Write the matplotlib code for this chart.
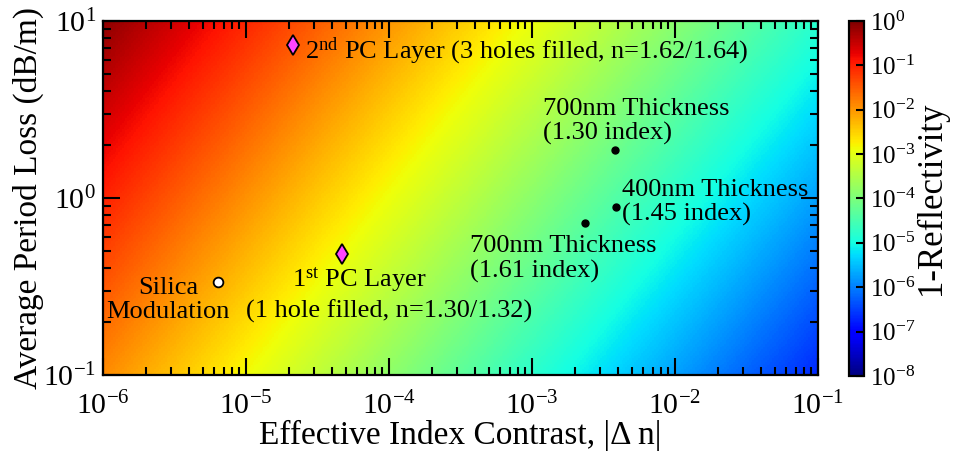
import numpy as np
import matplotlib
matplotlib.use("Agg")
import matplotlib.pyplot as plt
from matplotlib.colors import LogNorm
from matplotlib.ticker import LogLocator

plt.rcParams['font.family'] = ['Liberation Serif', 'DejaVu Serif']
plt.rcParams['mathtext.fontset'] = 'custom'
plt.rcParams['mathtext.rm'] = 'Liberation Serif'
plt.rcParams['mathtext.it'] = 'Liberation Serif:italic'
plt.rcParams['axes.unicode_minus'] = False

# log10(1-R)
corner_tl, corner_tr = -0.1, -4.8
corner_bl, corner_br = -1.9, -6.7
dn_decades = [-6, -1]
loss_decades = [-1, 1]

# measured devices
silica_dn = [6.4e-6]
silica_loss = [0.335]
pc_dn = [4.7e-5, 2.13e-5]
pc_loss = [0.483, 7.3]
thick_dn = [3.8e-3, 3.9e-3, 2.35e-3]
thick_loss = [1.87, 0.89, 0.72]

thick_labels = ['700nm Thickness\n(1.30 index)',
                '400nm Thickness\n(1.45 index)',
                '700nm Thickness\n(1.61 index)']

fig = plt.figure(figsize=(9.57, 4.53), dpi=100)
ax = fig.add_axes([0.1076, 0.172, 0.747, 0.7818])
cax = fig.add_axes([0.887, 0.170, 0.016, 0.7838])

# background map
lx = np.linspace(dn_decades[0], dn_decades[1], 400)
ly = np.linspace(loss_decades[0], loss_decades[1], 200)
top = np.linspace(corner_tl, corner_tr, lx.size)
bot = np.linspace(corner_bl, corner_br, lx.size)
t = (ly - ly[0]) / (ly[-1] - ly[0])
level = bot[None, :] + t[:, None] * (top - bot)[None, :]
mesh = ax.pcolormesh(10**lx, 10**ly, 10**level, cmap='jet',
                     norm=LogNorm(1e-8, 1), shading='auto', rasterized=True)

ax.set_xscale('log')
ax.set_yscale('log')
ax.set_xlim(10.0**dn_decades[0], 10.0**dn_decades[1])
ax.set_ylim(10.0**loss_decades[0], 10.0**loss_decades[1])

# points
ax.plot(silica_dn, silica_loss, 'o', ms=7, mfc='white', mec='black', mew=1.3)
ax.plot(pc_dn, pc_loss, 'd', ms=10, mfc='#ff44ff', mec='black', mew=1.3)
ax.plot(thick_dn, thick_loss, 'o', ms=5, color='black')

fs = 19
def label(xy, txt, dx, dy, ha='left'):
    ax.annotate(txt, xy=xy, xytext=(dx, dy), textcoords='offset pixels',
                ha=ha, va='baseline', fontsize=fs, linespacing=1.15,
                multialignment=ha)

label((pc_dn[1], pc_loss[1]), '2$^{\\rm nd}$ PC Layer (3 holes filled, n=1.62/1.64)', 12, -13)
label((pc_dn[0], pc_loss[0]), '1$^{\\rm st}$ PC Layer', 17, -33, 'center')
label((pc_dn[0], pc_loss[0]), '(1 hole filled, n=1.30/1.32)', 47, -64, 'center')
label((silica_dn[0], silica_loss[0]), 'Silica\nModulation', -50, -36, 'center')
thick_offsets = [(-72, 10), (6, -14), (-115, -54)]
for i in range(3):
    label((thick_dn[i], thick_loss[i]), thick_labels[i], *thick_offsets[i])

ax.tick_params(which='both', direction='in', top=True, right=True, width=1.5,
               labelsize=21.5)
ax.tick_params(which='major', length=12)
ax.tick_params(which='minor', length=6)
ax.tick_params(axis='x', pad=12)
ax.tick_params(axis='y', pad=5)
for s in ax.spines.values():
    s.set_linewidth(1.6)

ax.set_xlabel('Effective Index Contrast, |\u0394 n|', fontsize=24, labelpad=0)
ax.set_ylabel('Average Period Loss (dB/m)', fontsize=24, labelpad=-1)

cb = fig.colorbar(mesh, cax=cax)
cb.ax.yaxis.set_major_locator(LogLocator(base=10, numticks=20))
cb.ax.minorticks_off()
cb.ax.tick_params(direction='in', length=6, width=1.5, labelsize=18, pad=4)
cb.outline.set_linewidth(1.6)
cb.set_label('1-Reflectivity', fontsize=25, labelpad=0)

fig.savefig('out.png', dpi=100)
